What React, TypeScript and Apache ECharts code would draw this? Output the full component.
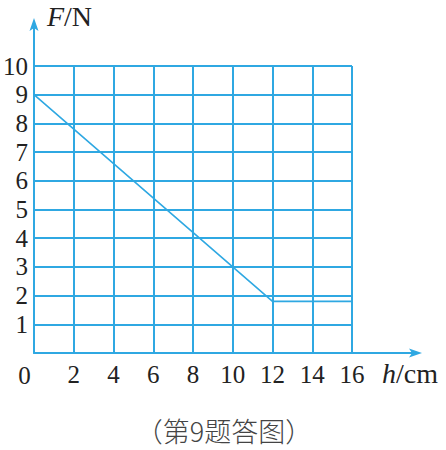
import React, { useEffect, useRef } from "react";
import * as echarts from "echarts";

const xTicks = [0, 2, 4, 6, 8, 10, 12, 14, 16];
const yTicks = [0, 1, 2, 3, 4, 5, 6, 7, 8, 9, 10];
const hValues = [0, 12, 16];
const fValues = [9, 1.8, 1.8];
const xName = "h/cm";
const yName = "F/N";
const caption = "（第9题答图）";

const BLUE = "#2fa8e2";
const SERIF = "Liberation Serif";
const TICK = 25;
const NAME = 28;

export default function App() {
  const ref = useRef<HTMLDivElement>(null);
  useEffect(() => {
    const chart = echarts.init(ref.current!, null, { renderer: "svg" });
    const label = {
      fontSize: TICK,
      fontFamily: SERIF,
      color: "#222",
      formatter: (v: number) => (v === 0 ? "" : "{s|" + v + "}"),
      rich: { s: { fontSize: TICK, fontFamily: SERIF, color: "#222" } },
    };
    const option: any = {
      animation: false,
      backgroundColor: "#ffffff",
      textStyle: { fontFamily: SERIF, fontSize: TICK },
      grid: { left: 31, top: 66, width: 321, height: 287 },
      xAxis: {
        type: "value",
        min: xTicks[0],
        max: xTicks[xTicks.length - 1],
        interval: 2,
        axisLine: { show: true, lineStyle: { color: BLUE, width: 2 } },
        axisTick: { show: false },
        splitLine: { show: true, lineStyle: { color: BLUE, width: 2 } },
        axisLabel: { ...label, margin: 9 },
      },
      yAxis: {
        type: "value",
        min: yTicks[0],
        max: yTicks[yTicks.length - 1],
        interval: 1,
        axisLine: { show: true, lineStyle: { color: BLUE, width: 2 } },
        axisTick: { show: false },
        splitLine: { show: true, lineStyle: { color: BLUE, width: 2 } },
        axisLabel: { ...label, margin: 6 },
      },
      series: [
        {
          type: "line",
          data: hValues.map((h, i) => [h, fValues[i]]),
          symbol: "none",
          lineStyle: { color: BLUE, width: 1.6 },
          z: 5,
        },
      ],
    };
    chart.setOption(option);
    const o = chart.convertToPixel({ gridIndex: 0 }, [0, 0]) as number[];
    const e = chart.convertToPixel({ gridIndex: 0 }, [16, 10]) as number[];
    const xEnd = e[0] + 70;
    const yEnd = e[1] - 48;
    const rich = { i: { fontStyle: "italic", fontSize: NAME, fontFamily: SERIF, fill: "#222" } };
    chart.setOption({
      graphic: [
        { type: "line", shape: { x1: e[0], y1: o[1], x2: xEnd - 8, y2: o[1] }, style: { stroke: BLUE, lineWidth: 2 } },
        { type: "polygon", shape: { points: [[xEnd, o[1]], [xEnd - 13, o[1] - 4.5], [xEnd - 10, o[1]], [xEnd - 13, o[1] + 4.5]] }, style: { fill: BLUE } },
        { type: "line", shape: { x1: o[0], y1: e[1], x2: o[0], y2: yEnd + 8 }, style: { stroke: BLUE, lineWidth: 2 } },
        { type: "polygon", shape: { points: [[o[0], yEnd], [o[0] - 4.5, yEnd + 13], [o[0], yEnd + 10], [o[0] + 4.5, yEnd + 13]] }, style: { fill: BLUE } },
        {
          type: "text",
          x: 47,
          y: 16,
          style: {
            text: "{i|" + yName.split("/")[0] + "}/" + yName.split("/")[1],
            fontSize: NAME,
            fontFamily: SERIF,
            fill: "#222",
            verticalAlign: "middle",
            rich,
          },
        },
        {
          type: "text",
          x: 382,
          y: 373,
          style: {
            text: "{i|" + xName.split("/")[0] + "}/" + xName.split("/")[1],
            fontSize: NAME,
            fontFamily: SERIF,
            fill: "#222",
            verticalAlign: "middle",
            rich,
          },
        },
        {
          type: "text",
          x: 24.5,
          y: 375,
          style: { text: "0", fontSize: TICK, fontFamily: SERIF, fill: "#222", align: "center", verticalAlign: "middle" },
        },
        {
          type: "text",
          x: 224,
          y: 430,
          style: {
            text: caption,
            fontSize: 27,
            fontFamily: "Noto Sans CJK SC",
            fontWeight: 300,
            fill: "#444",
            align: "center",
            verticalAlign: "middle",
          },
        },
      ],
    });
    return () => chart.dispose();
  }, []);
  return (
    <div
      ref={ref}
      style={{ position: "fixed", left: 0, top: 0, width: 446, height: 450 }}
    />
  );
}
